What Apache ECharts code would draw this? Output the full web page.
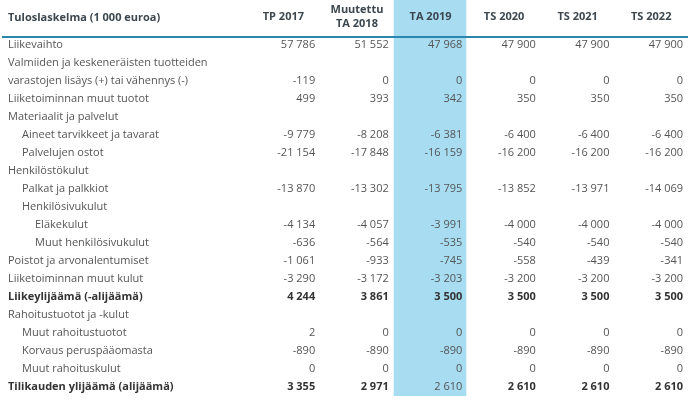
<!DOCTYPE html>
<html>
<head>
<meta charset="utf-8">
<script src="https://cdn.jsdelivr.net/npm/echarts@6/dist/echarts.min.js"></script>
<style>
html,body{margin:0;padding:0;background:#fff;}
#chart{width:694px;height:403px;}
</style>
</head>
<body>
<div id="chart"></div>
<script>
const tableTitle = 'Tuloslaskelma (1 000 euroa)';
const columns = ['TP 2017', 'Muutettu\nTA 2018', 'TA 2019', 'TS 2020', 'TS 2021', 'TS 2022'];
const highlightColumn = 'TA 2019';
const rows = [
  'Liikevaihto',
  'Valmiiden ja keskeneräisten tuotteiden',
  'varastojen lisäys (+) tai vähennys (-)',
  'Liiketoiminnan muut tuotot',
  'Materiaalit ja palvelut',
  'Aineet tarvikkeet ja tavarat',
  'Palvelujen ostot',
  'Henkilöstökulut',
  'Palkat ja palkkiot',
  'Henkilösivukulut',
  'Eläkekulut',
  'Muut henkilösivukulut',
  'Poistot ja arvonalentumiset',
  'Liiketoiminnan muut kulut',
  'Liikeylijäämä (-alijäämä)',
  'Rahoitustuotot ja -kulut',
  'Muut rahoitustuotot',
  'Korvaus peruspääomasta',
  'Muut rahoituskulut',
  'Tilikauden ylijäämä (alijäämä)'
];
const rowLevels = [0,0,0,0,0,1,1,0,1,1,2,2,0,0,0,0,1,1,1,0];
const rowBold =   [0,0,0,0,0,0,0,0,0,0,0,0,0,0,1,0,0,0,0,1];

const tp2017 = [57786, null, -119, 499, null, -9779, -21154, null, -13870, null, -4134, -636, -1061, -3290, 4244, null, 2, -890, 0, 3355];
const ta2018 = [51552, null, 0, 393, null, -8208, -17848, null, -13302, null, -4057, -564, -933, -3172, 3861, null, 0, -890, 0, 2971];
const ta2019 = [47968, null, 0, 342, null, -6381, -16159, null, -13795, null, -3991, -535, -745, -3203, 3500, null, 0, -890, 0, 2610];
const ts2020 = [47900, null, 0, 350, null, -6400, -16200, null, -13852, null, -4000, -540, -558, -3200, 3500, null, 0, -890, 0, 2610];
const ts2021 = [47900, null, 0, 350, null, -6400, -16200, null, -13971, null, -4000, -540, -439, -3200, 3500, null, 0, -890, 0, 2610];
const ts2022 = [47900, null, 0, 350, null, -6400, -16200, null, -14069, null, -4000, -540, -341, -3200, 3500, null, 0, -890, 0, 2610];
const columnValues = [tp2017, ta2018, ta2019, ts2020, ts2021, ts2022];

const FONT = '"Open Sans", sans-serif';
const TEXT = '#555';
const DARK = '#333';
const HEAD = '#3c474f';

function fmt(v) {
  const neg = v < 0;
  const s = String(Math.abs(v)).replace(/\B(?=(\d{3})+(?!\d))/g, ' ');
  return (neg ? '-' : '') + s;
}

const cellData = [];
columnValues.forEach((vals, ci) => {
  vals.forEach((v, ri) => {
    if (v === null) return;
    let bold = rowBold[ri];
    if (columns[ci] === highlightColumn && ri === rows.length - 1) bold = 0;
    cellData.push([ci, ri, v, bold]);
  });
});

const chart = echarts.init(document.getElementById('chart'), null, {renderer: 'canvas'});
chart.setOption({
  animation: false,
  backgroundColor: '#fff',
  textStyle: {fontFamily: FONT},
  title: {
    text: tableTitle,
    left: 8, top: 12, padding: 0,
    textStyle: {fontFamily: FONT, fontSize: 11, fontWeight: 'bold', color: HEAD}
  },
  grid: {left: 246.6, right: 6, top: 36, height: 360, containLabel: false},
  xAxis: {
    type: 'category',
    data: columns,
    position: 'top',
    z: 20,
    axisLine: {show: false},
    axisTick: {show: false},
    splitLine: {show: false},
    axisLabel: {
      interval: 0,
      margin: 19,
      verticalAlign: 'middle',
      fontFamily: FONT, fontSize: 11, fontWeight: 'bold', color: HEAD, lineHeight: 14
    }
  },
  yAxis: {
    type: 'category',
    data: rows,
    inverse: true,
    z: 20,
    axisLine: {show: false},
    axisTick: {show: false},
    splitLine: {show: false},
    axisLabel: {
      interval: 0,
      align: 'left',
      margin: 238.6,
      fontFamily: FONT, fontSize: 11, color: TEXT,
      formatter: function (val, idx) {
        const style = (rowBold[idx] ? 'b' : 'n') + rowLevels[idx];
        return '{' + style + '|' + val + '}';
      },
      rich: {
        n0: {fontFamily: FONT, fontSize: 11, color: TEXT},
        n1: {fontFamily: FONT, fontSize: 11, color: TEXT, padding: [0, 0, 0, 14]},
        n2: {fontFamily: FONT, fontSize: 11, color: TEXT, padding: [0, 0, 0, 27]},
        b0: {fontFamily: FONT, fontSize: 11, color: DARK, fontWeight: 'bold'}
      }
    }
  },
  graphic: [{
    type: 'line',
    z: 50,
    shape: {x1: 2, y1: 37, x2: 688, y2: 37},
    style: {stroke: '#2a86ad', lineWidth: 2}
  }],
  series: [
    {
      type: 'custom',
      z: 1,
      silent: true,
      clip: false,
      data: [[columns.indexOf(highlightColumn), 0]],
      renderItem: function (params, api) {
        const p = api.coord([api.value(0), api.value(1)]);
        const s = api.size([1, 1]);
        const cs = params.coordSys;
        return {
          type: 'rect',
          shape: {x: p[0] - s[0] / 2, y: 0, width: s[0] - 1, height: cs.y + cs.height},
          style: {fill: '#a7dcf1'}
        };
      }
    },
    {
      type: 'custom',
      z: 10,
      silent: true,
      clip: false,
      data: cellData,
      renderItem: function (params, api) {
        const p = api.coord([api.value(0), api.value(1)]);
        const s = api.size([1, 1]);
        const bold = api.value(3) === 1;
        return {
          type: 'text',
          x: p[0] + s[0] / 2 - 5,
          y: p[1],
          style: {
            text: fmt(api.value(2)),
            align: 'right',
            verticalAlign: 'middle',
            fontFamily: FONT,
            fontSize: 11,
            fontWeight: bold ? 'bold' : 'normal',
            fill: bold ? DARK : TEXT
          }
        };
      }
    }
  ]
});
</script>
</body>
</html>
